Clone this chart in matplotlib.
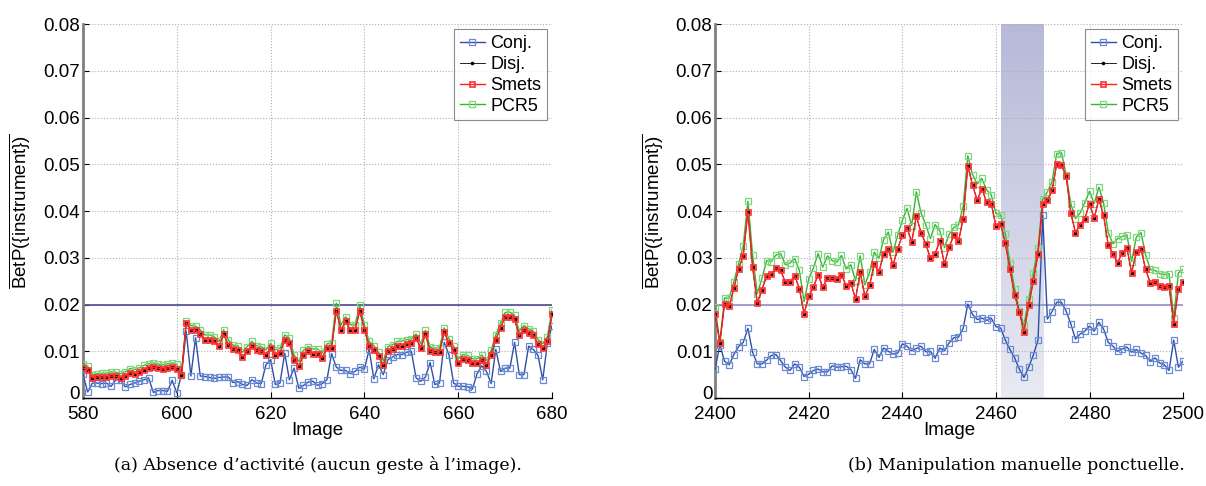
import matplotlib as mpl
import matplotlib.pyplot as plt
import matplotlib.transforms as mtransforms
import numpy as np
from matplotlib.colors import LinearSegmentedColormap

plt.rcParams['font.family'] = ['Liberation Sans', 'DejaVu Sans']
plt.rcParams['mathtext.fontset'] = 'custom'
plt.rcParams['mathtext.rm'] = 'Liberation Sans'

# panel (a): images 580..680
frames_a = list(range(580, 681))
conj_a = [0.0051, 0.0013, 0.0032, 0.0032, 0.0031, 0.0032, 0.0025, 0.0039, 0.0039, 0.0024,
          0.0029, 0.0032, 0.0036, 0.0039, 0.0043, 0.0012, 0.0016, 0.0016, 0.0014, 0.0038,
          0.0011, 0.0050, 0.0143, 0.0047, 0.0129, 0.0047, 0.0046, 0.0044, 0.0042, 0.0044,
          0.0045, 0.0045, 0.0033, 0.0035, 0.0029, 0.0027, 0.0039, 0.0032, 0.0031, 0.0071,
          0.0082, 0.0029, 0.0032, 0.0096, 0.0039, 0.0064, 0.0021, 0.0027, 0.0034, 0.0036,
          0.0027, 0.0031, 0.0039, 0.0095, 0.0066, 0.0059, 0.0059, 0.0052, 0.0057, 0.0066,
          0.0062, 0.0104, 0.0041, 0.0071, 0.0050, 0.0082, 0.0088, 0.0093, 0.0093, 0.0098,
          0.0100, 0.0043, 0.0036, 0.0045, 0.0076, 0.0029, 0.0032, 0.0119, 0.0093, 0.0032,
          0.0025, 0.0025, 0.0024, 0.0019, 0.0052, 0.0069, 0.0057, 0.0031, 0.0104, 0.0057,
          0.0064, 0.0064, 0.0119, 0.0050, 0.0050, 0.0111, 0.0104, 0.0091, 0.0039, 0.0118,
          0.0155]
smets_a = [0.0064, 0.0061, 0.0043, 0.0045, 0.0045, 0.0045, 0.0047, 0.0047, 0.0043, 0.0047,
           0.0054, 0.0052, 0.0055, 0.0061, 0.0064, 0.0066, 0.0064, 0.0062, 0.0064, 0.0066,
           0.0062, 0.0050, 0.0161, 0.0146, 0.0145, 0.0136, 0.0125, 0.0125, 0.0121, 0.0111,
           0.0136, 0.0114, 0.0104, 0.0102, 0.0088, 0.0100, 0.0111, 0.0102, 0.0100, 0.0093,
           0.0107, 0.0093, 0.0096, 0.0125, 0.0118, 0.0082, 0.0068, 0.0093, 0.0100, 0.0095,
           0.0095, 0.0086, 0.0107, 0.0107, 0.0186, 0.0146, 0.0164, 0.0146, 0.0146, 0.0186,
           0.0146, 0.0111, 0.0102, 0.0089, 0.0071, 0.0100, 0.0104, 0.0111, 0.0112, 0.0116,
           0.0118, 0.0129, 0.0107, 0.0136, 0.0100, 0.0098, 0.0098, 0.0141, 0.0118, 0.0102,
           0.0075, 0.0084, 0.0082, 0.0075, 0.0075, 0.0082, 0.0071, 0.0093, 0.0125, 0.0150,
           0.0174, 0.0174, 0.0168, 0.0134, 0.0146, 0.0139, 0.0134, 0.0116, 0.0107, 0.0121,
           0.0179]
# Disj. sits exactly on Smets in the picture
disj_a = list(smets_a)
pcr5_a = [0.0072, 0.0068, 0.0050, 0.0052, 0.0053, 0.0053, 0.0056, 0.0055, 0.0052, 0.0056,
          0.0063, 0.0061, 0.0064, 0.0070, 0.0073, 0.0075, 0.0073, 0.0071, 0.0073, 0.0075,
          0.0072, 0.0050, 0.0164, 0.0155, 0.0154, 0.0146, 0.0135, 0.0135, 0.0131, 0.0121,
          0.0146, 0.0124, 0.0113, 0.0112, 0.0098, 0.0110, 0.0121, 0.0112, 0.0110, 0.0103,
          0.0117, 0.0103, 0.0106, 0.0135, 0.0128, 0.0092, 0.0078, 0.0102, 0.0110, 0.0105,
          0.0105, 0.0096, 0.0116, 0.0117, 0.0203, 0.0156, 0.0174, 0.0157, 0.0156, 0.0199,
          0.0156, 0.0121, 0.0112, 0.0098, 0.0080, 0.0110, 0.0114, 0.0121, 0.0122, 0.0125,
          0.0126, 0.0137, 0.0116, 0.0145, 0.0109, 0.0107, 0.0107, 0.0150, 0.0127, 0.0111,
          0.0084, 0.0093, 0.0091, 0.0084, 0.0084, 0.0092, 0.0080, 0.0102, 0.0135, 0.0160,
          0.0183, 0.0184, 0.0177, 0.0143, 0.0155, 0.0148, 0.0143, 0.0125, 0.0116, 0.0131,
          0.0189]

# panel (b): images 2400..2500
frames_b = list(range(2400, 2501))
conj_b = [0.0062, 0.0114, 0.0079, 0.0071, 0.0093, 0.0110, 0.0119, 0.0149, 0.0098, 0.0073,
          0.0073, 0.0081, 0.0091, 0.0093, 0.0080, 0.0066, 0.0059, 0.0073, 0.0066, 0.0046,
          0.0051, 0.0059, 0.0062, 0.0056, 0.0056, 0.0069, 0.0066, 0.0067, 0.0068, 0.0061,
          0.0042, 0.0082, 0.0073, 0.0073, 0.0104, 0.0087, 0.0107, 0.0100, 0.0094, 0.0096,
          0.0116, 0.0111, 0.0101, 0.0106, 0.0111, 0.0099, 0.0100, 0.0085, 0.0107, 0.0101,
          0.0118, 0.0129, 0.0130, 0.0149, 0.0201, 0.0179, 0.0168, 0.0171, 0.0166, 0.0171,
          0.0153, 0.0150, 0.0124, 0.0104, 0.0086, 0.0062, 0.0044, 0.0066, 0.0092, 0.0124,
          0.0391, 0.0169, 0.0185, 0.0205, 0.0205, 0.0186, 0.0159, 0.0126, 0.0137, 0.0143,
          0.0154, 0.0143, 0.0162, 0.0148, 0.0119, 0.0111, 0.0100, 0.0105, 0.0109, 0.0098,
          0.0104, 0.0096, 0.0091, 0.0078, 0.0086, 0.0075, 0.0071, 0.0059, 0.0124, 0.0066,
          0.0079]
smets_b = [0.0180, 0.0118, 0.0201, 0.0196, 0.0235, 0.0276, 0.0304, 0.0398, 0.0280, 0.0203,
           0.0232, 0.0262, 0.0266, 0.0278, 0.0273, 0.0248, 0.0248, 0.0262, 0.0234, 0.0180,
           0.0218, 0.0237, 0.0264, 0.0237, 0.0256, 0.0256, 0.0255, 0.0264, 0.0240, 0.0246,
           0.0212, 0.0269, 0.0218, 0.0241, 0.0287, 0.0269, 0.0309, 0.0319, 0.0284, 0.0319,
           0.0348, 0.0364, 0.0334, 0.0389, 0.0354, 0.0330, 0.0299, 0.0309, 0.0335, 0.0287,
           0.0323, 0.0348, 0.0335, 0.0384, 0.0496, 0.0456, 0.0423, 0.0448, 0.0419, 0.0416,
           0.0368, 0.0373, 0.0332, 0.0275, 0.0221, 0.0184, 0.0142, 0.0198, 0.0251, 0.0309,
           0.0416, 0.0423, 0.0444, 0.0501, 0.0498, 0.0475, 0.0396, 0.0354, 0.0371, 0.0384,
           0.0416, 0.0385, 0.0425, 0.0391, 0.0328, 0.0309, 0.0289, 0.0311, 0.0321, 0.0268,
           0.0312, 0.0319, 0.0275, 0.0246, 0.0249, 0.0239, 0.0237, 0.0239, 0.0159, 0.0234,
           0.0248]
disj_b = list(smets_b)
pcr5_b = [0.0194, 0.0119, 0.0214, 0.0214, 0.0249, 0.0287, 0.0325, 0.0421, 0.0306, 0.0223,
          0.0256, 0.0294, 0.0292, 0.0306, 0.0309, 0.0285, 0.0289, 0.0298, 0.0273, 0.0206,
          0.0255, 0.0278, 0.0309, 0.0280, 0.0304, 0.0294, 0.0291, 0.0305, 0.0276, 0.0285,
          0.0251, 0.0304, 0.0242, 0.0269, 0.0312, 0.0299, 0.0339, 0.0355, 0.0312, 0.0348,
          0.0380, 0.0406, 0.0369, 0.0441, 0.0396, 0.0371, 0.0341, 0.0371, 0.0358, 0.0322,
          0.0350, 0.0365, 0.0370, 0.0410, 0.0518, 0.0478, 0.0458, 0.0470, 0.0445, 0.0435,
          0.0395, 0.0392, 0.0351, 0.0289, 0.0234, 0.0187, 0.0156, 0.0211, 0.0268, 0.0321,
          0.0425, 0.0441, 0.0463, 0.0523, 0.0525, 0.0478, 0.0416, 0.0384, 0.0396, 0.0418,
          0.0442, 0.0416, 0.0451, 0.0418, 0.0354, 0.0330, 0.0341, 0.0346, 0.0349, 0.0292,
          0.0344, 0.0354, 0.0306, 0.0275, 0.0273, 0.0266, 0.0264, 0.0266, 0.0171, 0.0268,
          0.0275]

threshold = 0.02
event_span = (2461, 2470)
captions = ['(a) Absence d\u2019activit\u00e9 (aucun geste \u00e0 l\u2019image).',
            '(b) Manipulation manuelle ponctuelle.']

fig = plt.figure(figsize=(12.06, 4.86), dpi=100)
ax_a = fig.add_axes([0.0688, 0.181, 0.389, 0.7695])
ax_b = fig.add_axes([0.593, 0.181, 0.388, 0.7695])


def draw_panel(ax, x, conj, disj, smets, pcr5, line_col):
    ax.axhline(threshold, color=line_col, lw=1.2, zorder=1)
    h_conj, = ax.plot(x, conj, '-s', color='#2f4fa6', lw=1, ms=3.8,
                      mfc='none', mec='#6a8bd4', mew=0.9, zorder=3)
    h_pcr5, = ax.plot(x, pcr5, '-s', color='#33b533', lw=1, ms=3.8,
                      mfc='none', mec='#7fd67f', mew=0.9, zorder=4)
    # black line under the red one, dots still show through the open squares
    h_disj, = ax.plot(x, disj, '-', color='black', lw=0.6, marker='.',
                      ms=3.2, zorder=4.5)
    h_smets, = ax.plot(x, smets, '-s', color='#ff2020', lw=1, ms=3.6,
                       mfc='none', mec='#ff3030', mew=1.2, zorder=5)
    ax.set_xlim(x[0], x[-1])
    ax.set_ylim(0, 0.08)
    ax.set_yticks(np.arange(0, 0.081, 0.01))
    ax.set_yticklabels(['0'] + ['%.2f' % v for v in np.arange(0.01, 0.081, 0.01)])
    ax.grid(True, color='#b0b0b0', ls=':', lw=0.8)
    ax.set_axisbelow(True)
    ax.spines['top'].set_visible(False)
    ax.spines['right'].set_visible(False)
    ax.spines['left'].set_color('#808080')
    ax.spines['left'].set_linewidth(2)
    ax.spines['bottom'].set_linewidth(1)
    ax.tick_params(labelsize=13.5, direction='in', length=4, width=0.8, pad=2)
    ax.tick_params(axis='x', pad=6)
    # lift the "0" a little so it clears the first x tick label
    zero = ax.get_yticklabels()[0]
    zero.set_transform(zero.get_transform() +
                       mtransforms.ScaledTranslation(0, 4 / 72, fig.dpi_scale_trans))
    ax.set_xlabel('Image', fontsize=13.5, labelpad=-1)
    ax.set_ylabel(r'$\overline{\mathrm{BetP(\{instrument\})}}$', fontsize=13.5, labelpad=8)
    leg = ax.legend([h_conj, h_disj, h_smets, h_pcr5], ['Conj.', 'Disj.', 'Smets', 'PCR5'],
                    loc='upper right', fontsize=13, handlelength=1.4, handletextpad=0.3,
                    borderpad=0.3, labelspacing=0.22, borderaxespad=0.3, fancybox=False)
    leg.get_frame().set_edgecolor('#707070')
    leg.get_frame().set_linewidth(0.8)


draw_panel(ax_a, frames_a, conj_a, disj_a, smets_a, pcr5_a, '#4a4a90')
ax_a.set_xticks(np.arange(580, 681, 20))

# shaded event window, light gradient
shade = LinearSegmentedColormap.from_list('shade', ['#e9eaf2', '#b6b9d8'])
grad = np.linspace(0, 1, 256).reshape(-1, 1)
ax_b.imshow(grad, extent=[event_span[0], event_span[1], 0, 0.08], origin='lower',
            aspect='auto', cmap=shade, zorder=0.5)
draw_panel(ax_b, frames_b, conj_b, disj_b, smets_b, pcr5_b, '#8f91c6')
ax_b.set_xticks(np.arange(2400, 2501, 20))
ax_b.set_xlim(2400, 2500)

fig.text(0.264, 0.043, captions[0], ha='center', va='center', fontsize=12.5,
         family='DejaVu Serif')
fig.text(0.843, 0.043, captions[1], ha='center', va='center', fontsize=12.5,
         family='DejaVu Serif')

fig.savefig('out.png', dpi=100)
